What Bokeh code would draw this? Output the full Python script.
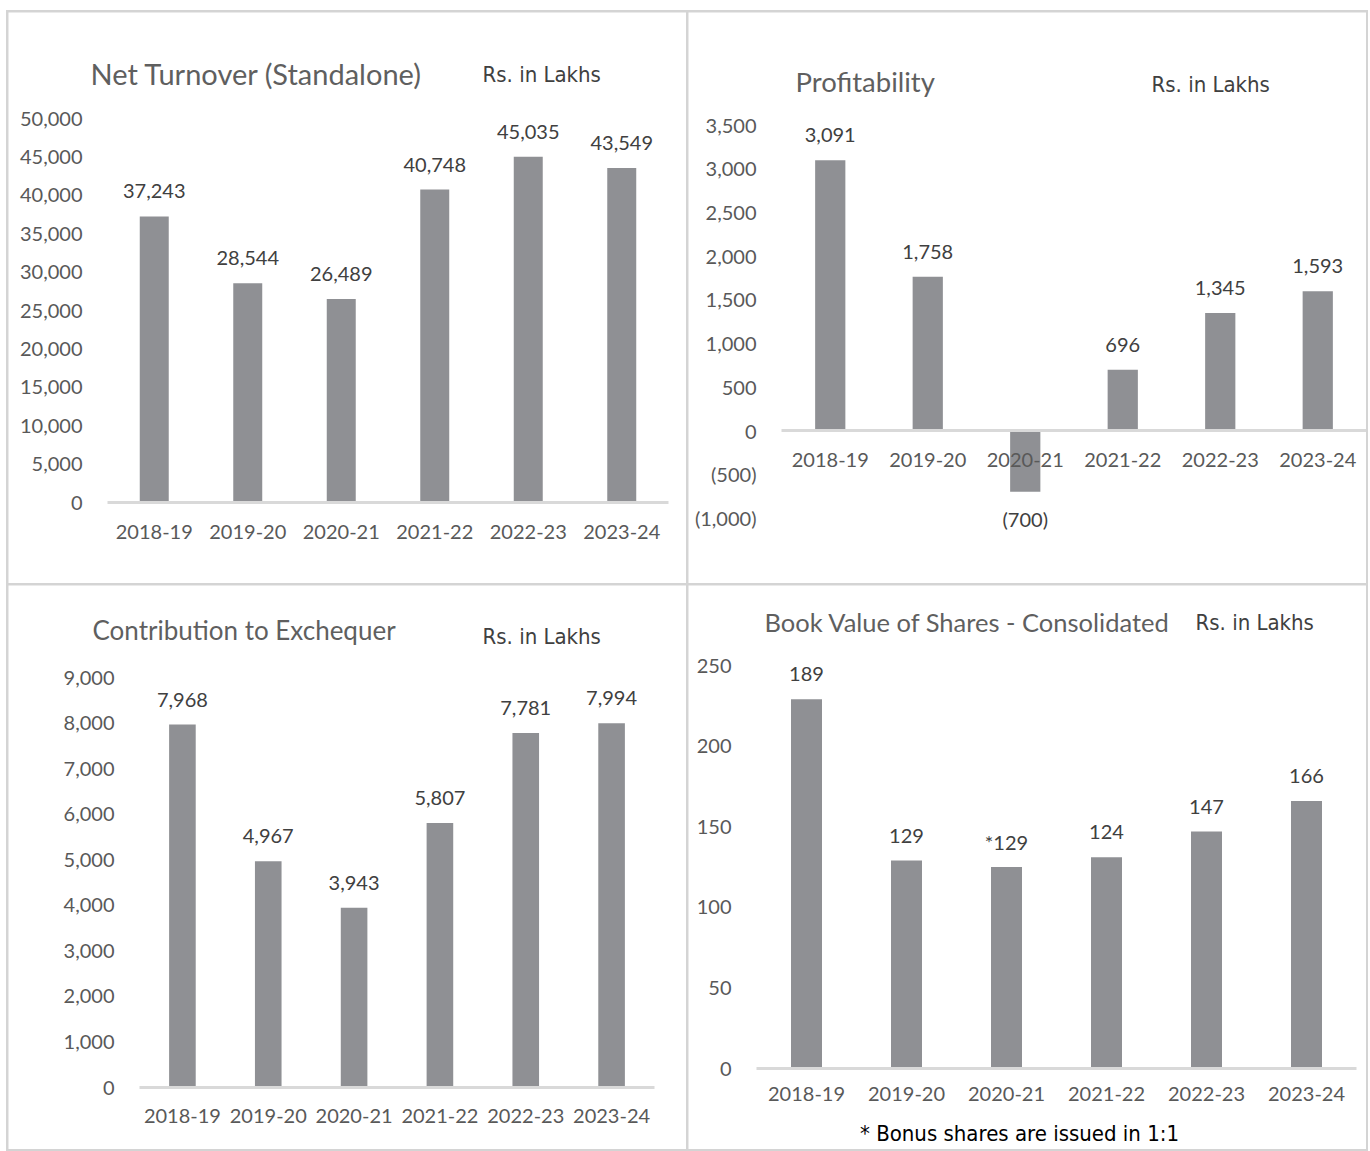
from bokeh.plotting import figure
from bokeh.models import (ColumnDataSource, LabelSet, Label, Range1d,
                          FixedTicker, NumeralTickFormatter)
from bokeh.layouts import row, column
from bokeh.core.properties import value
from bokeh.embed import file_html
from bokeh.resources import INLINE

years = ["2018-19", "2019-20", "2020-21", "2021-22", "2022-23", "2023-24"]

turnover = [37243, 28544, 26489, 40748, 45035, 43549]
turnover_ticks = [0, 5000, 10000, 15000, 20000, 25000, 30000, 35000, 40000, 45000, 50000]

profit = [3091, 1758, -700, 696, 1345, 1593]
profit_ticks = [-1000, -500, 0, 500, 1000, 1500, 2000, 2500, 3000, 3500]

exchequer = [7968, 4967, 3943, 5807, 7781, 7994]
exchequer_ticks = [0, 1000, 2000, 3000, 4000, 5000, 6000, 7000, 8000, 9000]

# bar heights as drawn in the picture, and the printed labels
book_bars = [229, 129, 125, 131, 147, 166]
book_labels = ["189", "129", "*129", "124", "147", "166"]
book_ticks = [0, 50, 100, 150, 200, 250]

BAR = "#8f9094"
TICK = "#595959"
DLAB = "#404040"
TFONT = "Lato"
NARROW = "Liberation Sans Narrow, DejaVu Sans Condensed, sans-serif"


def fmt(v):
    return "({:,})".format(-v) if v < 0 else "{:,}".format(v)


def panel(vals, labels, ticks, numfmt, W, H, x0, dx, y0, ky,
          title, tsize, tpos, rpos, xstand=16):
    # pixel geometry -> data ranges so the frame fills the whole panel
    xr = Range1d(-x0 / dx, (W - x0) / dx)
    yr = Range1d(-(H - y0) / ky, y0 / ky)
    p = figure(x_range=xr, y_range=yr, width=W, height=H,
               output_backend="svg", toolbar_location=None,
               min_border=0, min_border_left=0, min_border_right=0,
               min_border_top=0, min_border_bottom=0)
    p.outline_line_color = None
    p.xgrid.grid_line_color = None
    p.ygrid.grid_line_color = None
    p.background_fill_color = "white"
    p.border_fill_color = "white"
    xs = [i + 0.5 for i in range(len(years))]
    src = ColumnDataSource(dict(x=xs, top=vals, lab=labels,
                                off=[25 if v >= 0 else -27 for v in vals]))
    p.vbar(x="x", top="top", bottom=0, width=0.31, source=src,
           fill_color=BAR, line_color=None)
    p.add_layout(LabelSet(x="x", y="top", text="lab", source=src, y_offset="off",
                          text_align="center", text_baseline="middle",
                          text_font=value(TFONT), text_font_size="20px",
                          text_color=DLAB))
    ya = p.yaxis[0]
    ya.ticker = FixedTicker(ticks=ticks)
    ya.formatter = NumeralTickFormatter(format=numfmt)
    ya.fixed_location = 0
    ya.axis_line_color = None
    ya.major_tick_line_color = None
    ya.minor_tick_line_color = None
    ya.major_label_standoff = 19
    ya.major_label_text_font = TFONT
    ya.major_label_text_font_size = "20px"
    ya.major_label_text_color = TICK
    xa = p.xaxis[0]
    xa.ticker = FixedTicker(ticks=xs)
    xa.major_label_overrides = {x: y for x, y in zip(xs, years)}
    xa.fixed_location = 0
    xa.bounds = (0, len(years))
    xa.axis_line_color = "#d9d9d9"
    xa.axis_line_width = 3
    xa.major_tick_line_color = None
    xa.minor_tick_line_color = None
    xa.major_label_standoff = xstand
    xa.major_label_text_font = TFONT
    xa.major_label_text_font_size = "20px"
    xa.major_label_text_color = TICK
    p.add_layout(Label(x=tpos[0], y=H - tpos[1], x_units="screen",
                       y_units="screen", text=title, text_font=TFONT,
                       text_font_size=tsize, text_color="#5f5f5f",
                       text_baseline="middle", text_align="left"))
    p.add_layout(Label(x=rpos[0], y=H - rpos[1], x_units="screen",
                       y_units="screen", text="Rs. in Lakhs", text_font=NARROW,
                       text_font_size="22px", text_color="#404040",
                       text_baseline="middle", text_align="left"))
    return p


W = 678
HT = 571
HB = 564

p1 = panel(turnover, [fmt(v) for v in turnover], turnover_ticks, "0,0",
           W, HT, 99, 561 / 6, 490, 384 / 50000,
           "Net Turnover (Standalone)", "29px", (82, 61), (474, 62))
p2 = panel(profit, [fmt(v) for v in profit], profit_ticks, "(0,0)",
           W, HT, 93, 97.5, 418, 306 / 3500,
           "Profitability", "27.5px", (107, 69), (463, 72))
p3 = panel(exchequer, [fmt(v) for v in exchequer], exchequer_ticks, "0,0",
           W, HB, 131, 515 / 6, 502, 410 / 9000,
           "Contribution to Exchequer", "26px", (84, 44), (474, 51), xstand=15)
p4 = panel(book_bars, book_labels, book_ticks, "0,0",
           W, HB, 68, 100, 483, 403 / 250,
           "Book Value of Shares - Consolidated", "25.5px", (76, 36), (507, 37), xstand=12)
p4.add_layout(Label(x=331, y=HB - 548, x_units="screen", y_units="screen",
                    text="* Bonus shares are issued in 1:1", text_font=NARROW,
                    text_font_size="22px", text_color="#000000",
                    text_baseline="middle", text_align="center"))

layout = column(row(p1, p2, spacing=2), row(p3, p4, spacing=2), spacing=2,
                styles={"background-color": "#d4d4d4", "padding": "2px",
                        "margin-left": "6px", "margin-top": "10px"})

open("out.html", "w").write(file_html(layout, INLINE))
